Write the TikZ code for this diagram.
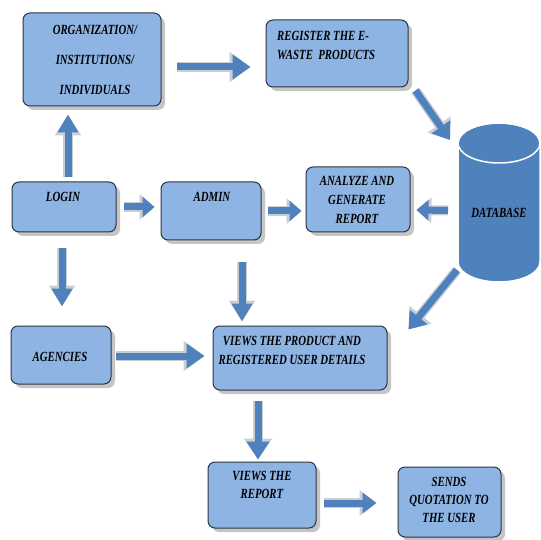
\documentclass[tikz,border=0pt]{standalone}
\usepackage{fontspec}
\setmainfont{Liberation Serif}[FakeStretch=0.77]
\usepackage{xcolor}
\usepackage{tikz}
\usetikzlibrary{arrows.meta, shadows}
\definecolor{boxFill}{HTML}{8DB4E2}
\definecolor{boxEdge}{HTML}{2B3645}
\definecolor{arrowBlue}{HTML}{4F81BD}
\definecolor{bevelGray}{HTML}{C9CED6}

\begin{document}
\begin{tikzpicture}[x=1pt, y=-1pt,
    box/.style={draw=boxEdge, line width=1pt, fill=boxFill, rounded corners=7pt,
        drop shadow={shadow xshift=4pt, shadow yshift=-4pt, fill=black!45}},
    txt/.style={font=\bfseries\itshape\fontsize{14}{19}\selectfont, align=center, inner sep=0pt},
    fat/.style 2 args={line width=7pt, draw=arrowBlue, -{Triangle[width=#1pt, length=#2pt]},
        preaction={draw=bevelGray, line width=10pt, -{Triangle[width=#1pt+5pt, length=#2pt+3pt]}}}]
    \useasboundingbox (0,0) rectangle (541,540);
    \node[box, minimum width=138pt, minimum height=93pt] (org) at (92,59.5) {};
    \node[box, minimum width=142pt, minimum height=67pt] (reg) at (337,53.5) {};
    \node[box, minimum width=104pt, minimum height=50pt] (login) at (64,207) {};
    \node[box, minimum width=100pt, minimum height=58pt] (admin) at (211,211) {};
    \node[box, minimum width=104pt, minimum height=65pt] (analyze) at (358,199.5) {};
    \node[box, minimum width=100pt, minimum height=58pt] (agencies) at (61,355) {};
    \node[box, minimum width=174pt, minimum height=64pt] (views) at (300,358) {};
    \node[box, minimum width=108pt, minimum height=66pt] (vreport) at (262,495) {};
    \node[box, minimum width=103pt, minimum height=70pt] (sends) at (449.5,502) {};

    % database cylinder
    \coordinate (db) at (499,202.5);
    \filldraw[fill=arrowBlue, draw=white, line width=1.5pt] (458,143) -- (458,262)
        arc[start angle=180, end angle=0, x radius=41, y radius=20] -- (540,143)
        arc[start angle=0, end angle=-180, x radius=41, y radius=20] -- cycle;
    \draw[white, line width=1.5pt] (499,143) ellipse [x radius=41, y radius=20];

    \node[txt] (org-t) at (95,60) {ORGANIZATION/\\[11pt]INSTITUTIONS/\\[11pt]INDIVIDUALS};
    \node[txt, align=left, anchor=west] (reg-t) at (277,45.5) {REGISTER THE E-\\WASTE\ \ PRODUCTS};
    \node[txt] (login-t) at (63,197) {LOGIN};
    \node[txt] (admin-t) at (212,197) {ADMIN};
    \node[txt] (analyze-t) at (357,200) {ANALYZE AND\\GENERATE\\REPORT};
    \node[txt] (db-t) at (499,213) {DATABASE};
    \node[txt] (agencies-t) at (60,357) {AGENCIES};
    \node[txt] (views-t) at (292,350) {VIEWS THE PRODUCT AND\\REGISTERED USER DETAILS};
    \node[txt, font=\bfseries\itshape\fontsize{14}{18}\selectfont] (vreport-t) at (262,485) {VIEWS THE\\REPORT};
    \node[txt, font=\bfseries\itshape\fontsize{14}{18}\selectfont] (sends-t) at (449,500) {SENDS\\QUOTATION TO\\THE USER};

    \draw[fat={24}{18}] ([xshift=15pt, yshift=-7.5pt]org.east) -- ([xshift=-15pt, yshift=-13.5pt]reg.west);
    \draw[fat={20}{18}] ([xshift=4pt, yshift=4pt]login.north) -- ([xshift=-24pt, yshift=-8pt]org.south);
    \draw[fat={20}{12}] ([xshift=7pt]login.east) -- ([xshift=-6pt, yshift=4pt]admin.west);
    \draw[fat={20}{12}] ([xshift=6pt]admin.east) -- ([xshift=-4pt, yshift=-11.5pt]analyze.west);
    \draw[fat={20}{12}] ([xshift=-51pt, yshift=-8pt]db) -- ([xshift=6pt, yshift=-10.5pt]analyze.east);
    \draw[fat={22}{16}] ([xshift=7pt, yshift=-3pt]reg.south east) -- ([xshift=-49pt, yshift=62.5pt]db);
    \draw[fat={20}{18}] ([xshift=-2pt, yshift=-16pt]login.south) -- ([xshift=1pt, yshift=19pt]agencies.north);
    \draw[fat={20}{18}] ([xshift=31pt, yshift=-22pt]admin.south) -- ([xshift=-58pt, yshift=4pt]views.north);
    \draw[fat={24}{18}] ([xshift=4pt, yshift=-1pt]agencies.east) -- ([xshift=-8pt, yshift=2pt]views.west);
    \draw[fat={22}{16}] ([xshift=-42pt, yshift=-67.5pt]db) -- ([xshift=21pt, yshift=-4pt]views.north east);
    \draw[fat={22}{18}] ([xshift=-42pt, yshift=-10pt]views.south) -- ([xshift=-4pt, yshift=2pt]vreport.north);
    \draw[fat={20}{14}] ([xshift=7pt, yshift=-8pt]vreport.east) -- ([xshift=-21pt, yshift=-1pt]sends.west);
\end{tikzpicture}
\end{document}
